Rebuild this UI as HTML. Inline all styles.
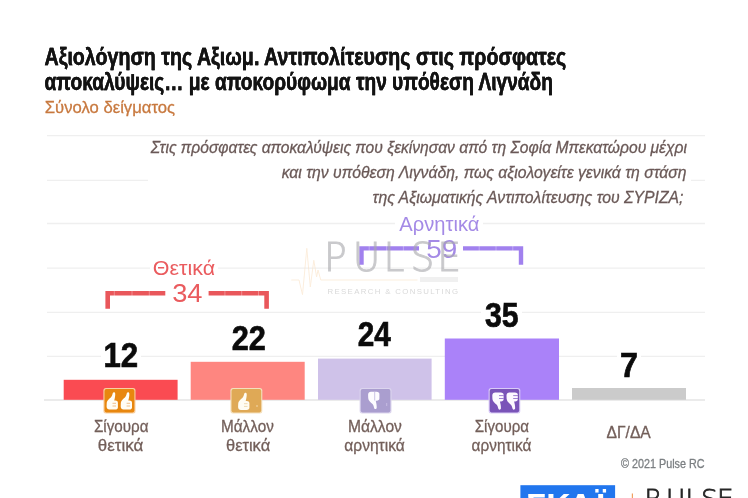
<!DOCTYPE html>
<html lang="el"><head><meta charset="utf-8"><title>Pulse RC – Αξιολόγηση της Αξιωμ. Αντιπολίτευσης</title>
<style>
html,body{margin:0;padding:0;background:#fff;}
body{width:748px;height:498px;overflow:hidden;position:relative;font-family:"Liberation Sans",sans-serif;}
svg{position:absolute;left:0;top:0;display:block}
text{font-family:"Liberation Sans",sans-serif;}
.lt{font-family:"DejaVu Sans Light","DejaVu Sans",sans-serif;font-weight:200}
</style></head><body>
<svg width="748" height="498" viewBox="0 0 748 498">
<rect width="748" height="498" fill="#fff"/>
<!-- grid -->
<g stroke="#efefef" stroke-width="1.4">
<line x1="47" y1="135.6" x2="705" y2="135.6"/>
<line x1="47" y1="180.4" x2="705" y2="180.4"/>
<line x1="47" y1="223.5" x2="705" y2="223.5"/>
<line x1="47" y1="268.1" x2="705" y2="268.1"/>
<line x1="47" y1="312.4" x2="705" y2="312.4"/>
<line x1="47" y1="356.4" x2="705" y2="356.4"/>
<line x1="44" y1="400" x2="705" y2="400" stroke="#e4e4e4"/>
</g>
<!-- white plates behind texts -->
<g fill="#fff">
<rect x="148" y="138" width="543" height="72"/>
<rect x="395" y="214" width="88" height="20"/>
<rect x="150" y="258" width="68" height="20"/>
<rect x="101" y="340" width="40" height="30"/>
<rect x="228" y="322" width="41" height="30"/>
<rect x="354" y="319" width="41" height="30"/>
<rect x="481" y="299" width="41" height="30"/>
<rect x="617" y="349" width="24" height="30"/>
</g>
<!-- bars -->
<rect x="63.7" y="379.8" width="113.9" height="20" fill="#fa4b52"/>
<rect x="190.7" y="361.8" width="114" height="38" fill="#fe8680"/>
<rect x="318" y="358.6" width="113.6" height="41.2" fill="#cfc2e9"/>
<rect x="444.8" y="338.5" width="114.2" height="61.3" fill="#aa82f9"/>
<rect x="572" y="388" width="114" height="11.8" fill="#cbcbcb"/>
<!-- brackets -->
<g fill="none" stroke="#e9575b" stroke-width="4.6">
<path d="M107.700 308.800V293.300H165.300M208.600 293.300H266.600V308.800"/>
</g>
<g fill="none" stroke="#a181ee" stroke-width="4.4">
<path d="M361.500 264.800V248.400H419M463 248.400H521V264.800"/>
</g>
<g stroke="#fff" stroke-width="0.9" opacity=".35">
<path d="M114.300 290v6M132 290v6M149.300 290v6M224.900 290v6M241.700 290v6M258.500 290v6M369.200 246v5M386.600 246v5M403.400 246v5M479.200 246v5M496 246v5M512.800 246v5"/>
</g>
<!-- texts -->
<text transform="translate(44.48 65.0) scale(0.8535 1)" font-size="23" fill="#131313" font-weight="700" stroke="#131313" stroke-width="0.3" style="filter:drop-shadow(0.8px 0 0 #131313)">Αξιολόγηση της Αξιωμ. Αντιπολίτευσης στις πρόσφατες</text>
<text transform="translate(44.60 90.2) scale(0.8329 1)" font-size="23" fill="#131313" font-weight="700" stroke="#131313" stroke-width="0.3" style="filter:drop-shadow(0.8px 0 0 #131313)">αποκαλύψεις… με αποκορύφωμα την υπόθεση Λιγνάδη</text>
<text transform="translate(44.77 113.3) scale(0.9803 1)" font-size="17" fill="#c8793f" stroke="#c8793f" stroke-width="0.3">Σύνολο δείγματος</text>
<text transform="translate(150.76 153.4) scale(0.9032 1)" font-size="17.3" fill="#6a5957" font-style="italic" stroke="#6a5957" stroke-width="0.3">Στις πρόσφατες αποκαλύψεις που ξεκίνησαν από τη Σοφία Μπεκατώρου μέχρι</text>
<text transform="translate(281.64 178.4) scale(0.9103 1)" font-size="17.3" fill="#6a5957" font-style="italic" stroke="#6a5957" stroke-width="0.3">και την υπόθεση Λιγνάδη, πως αξιολογείτε γενικά τη στάση</text>
<text transform="translate(372.53 203.0) scale(0.9122 1)" font-size="17.3" fill="#6a5957" font-style="italic" stroke="#6a5957" stroke-width="0.3">της Αξιωματικής Αντιπολίτευσης του ΣΥΡΙΖΑ;</text>
<text transform="translate(399.30 230.5) scale(1.0289 1)" font-size="19.6" fill="#a48ae6">Αρνητικά</text>
<text transform="translate(426.19 257.9) scale(1.1148 1)" font-size="25" fill="#a48ae6">59</text>
<text transform="translate(152.84 274.9) scale(1.0946 1)" font-size="19.6" fill="#ea5b5e">Θετικά</text>
<text transform="translate(172.18 302.4) scale(1.0488 1)" font-size="26" fill="#ea5b5e">34</text>
<text transform="translate(103.53 367.3) scale(0.8913 1)" font-size="35" fill="#0b0b0b" font-weight="700" stroke="#0b0b0b" stroke-width="0.7">12</text>
<text transform="translate(231.68 349.7) scale(0.8767 1)" font-size="35" fill="#0b0b0b" font-weight="700" stroke="#0b0b0b" stroke-width="0.7">22</text>
<text transform="translate(357.71 346.3) scale(0.8497 1)" font-size="35" fill="#0b0b0b" font-weight="700" stroke="#0b0b0b" stroke-width="0.7">24</text>
<text transform="translate(484.89 326.7) scale(0.8656 1)" font-size="35" fill="#0b0b0b" font-weight="700" stroke="#0b0b0b" stroke-width="0.7">35</text>
<text transform="translate(619.91 376.7) scale(0.9226 1)" font-size="35" fill="#0b0b0b" font-weight="700" stroke="#0b0b0b" stroke-width="0.7">7</text>
<text transform="translate(93.94 431.6) scale(0.9232 1)" font-size="16.5" fill="#735f5a" stroke="#735f5a" stroke-width="0.3">Σίγουρα</text>
<text transform="translate(97.85 450.8) scale(1.0252 1)" font-size="16.5" fill="#735f5a" stroke="#735f5a" stroke-width="0.3">θετικά</text>
<text transform="translate(220.97 431.6) scale(0.9285 1)" font-size="16.5" fill="#735f5a" stroke="#735f5a" stroke-width="0.3">Μάλλον</text>
<text transform="translate(225.98 450.8) scale(0.9973 1)" font-size="16.5" fill="#735f5a" stroke="#735f5a" stroke-width="0.3">θετικά</text>
<text transform="translate(348.05 431.6) scale(0.9466 1)" font-size="16.5" fill="#735f5a" stroke="#735f5a" stroke-width="0.3">Μάλλον</text>
<text transform="translate(344.28 450.8) scale(0.9445 1)" font-size="16.5" fill="#735f5a" stroke="#735f5a" stroke-width="0.3">αρνητικά</text>
<text transform="translate(474.74 431.6) scale(0.9163 1)" font-size="16.5" fill="#735f5a" stroke="#735f5a" stroke-width="0.3">Σίγουρα</text>
<text transform="translate(471.59 450.8) scale(0.9318 1)" font-size="16.5" fill="#735f5a" stroke="#735f5a" stroke-width="0.3">αρνητικά</text>
<text transform="translate(606.49 437.9) scale(0.9672 1)" font-size="16.2" fill="#735f5a" stroke="#735f5a" stroke-width="0.3">ΔΓ/ΔΑ</text>
<text transform="translate(621.09 467.5) scale(0.8848 1)" font-size="12.2" fill="#7b7f82" stroke="#7b7f82" stroke-width="0.3">© 2021 Pulse RC</text>
<!-- watermark -->
<g opacity="0.62">
<path d="M291.3 280H299L302.500 294.700L306.800 248.300L310.300 287L313.800 260.300L316.600 277L318 270L320.800 280H417.500" fill="none" stroke="#fae3c8" stroke-width="1"/>
<text transform="translate(0 271.2) scale(0.9535 1)" x="339.92 370.00 402.19 430.44 458.69" font-size="39.5" fill="#a9a9ad" class="lt" stroke="#a9a9ad" stroke-width="1">PULSE</text>
<text x="327.5" y="293.8" font-size="7.8" fill="#c2c2c2" textLength="130.5" lengthAdjust="spacing">RESEARCH &amp; CONSULTING</text>
<rect x="420" y="277" width="38" height="5" fill="#dcdcdc" opacity=".7"/>
</g>
<!-- icons -->
<defs>
<path id="th" d="M3 0H8.500C10.500 0 11.400 1 11.400 2.200V6.800C11.400 8.200 10.300 9 8.800 9L7.700 9C8.300 11.200 8.900 14 8.700 16.200 8.500 17.500 6.800 17.700 6.300 16.600 5.900 15.500 5.700 13.800 4.700 12.500 3 10.500.4 9.500.2 6L.1 3C.1 1.200 1.300 0 3 0Z"/>
</defs>
<g>
<rect x="103.400" y="388" width="32.100" height="25.500" rx="2.500" fill="#f8cfa2"/>
<rect x="104.500" y="389.100" width="29.900" height="23.300" rx="1.800" fill="#e8870f"/>
<g fill="#fffdf6"><use href="#th" transform="translate(106.500 409.600) scale(1 -1)"/><use href="#th" transform="translate(120.600 409.600) scale(1 -1)"/></g>
<path d="M112.500 403.300h3.500M112.500 406h3.500M126.600 403.300h3.500M126.600 406h3.500" stroke="#ecb070" stroke-width=".8"/>
</g>
<g>
<rect x="230.400" y="388" width="31.900" height="25.500" rx="2.500" fill="#f4e0bd"/>
<rect x="231.500" y="389.100" width="29.700" height="23.300" rx="1.800" fill="#dfa956"/>
<use href="#th" transform="translate(238 410) scale(1 -1)" fill="#fffdf4"/>
<path d="M244 403.700h3.500M244 406.400h3.500" stroke="#ead0a0" stroke-width=".8"/>
<circle cx="257" cy="406" r="1" fill="#ecc98f"/>
</g>
<g>
<rect x="359.600" y="388" width="31.900" height="25.500" rx="2.500" fill="#dcd5ee"/>
<rect x="360.700" y="389.100" width="29.700" height="23.300" rx="1.800" fill="#aa9ecf"/>
<use href="#th" transform="translate(368 391.800)" fill="#fdfcff"/>
<path d="M374.700 392v8.500" stroke="#beb4de" stroke-width=".8"/>
<path d="M386.700 403v3" stroke="#c5bbe2" stroke-width="1"/>
</g>
<g>
<rect x="488.600" y="388" width="31.700" height="25.500" rx="2.500" fill="#d9cbf7"/>
<rect x="489.700" y="389.100" width="29.500" height="23.300" rx="1.800" fill="#7a54b8"/>
<g fill="#fcf9ff"><use href="#th" transform="translate(492.200 392.400)"/><use href="#th" transform="translate(506.400 392.400)"/></g>
<path d="M499 395.600h4.800M499 398.500h4.800M513.200 395.600h4.800M513.200 398.500h4.800" stroke="#9473cc" stroke-width=".9"/>
</g>
<!-- bottom logos -->
<rect x="520.400" y="485.200" width="94.700" height="20" fill="#2176ee"/>
<text transform="translate(0 516) scale(1.0559 1)" x="498.70 517.38 538.47 564.45" font-size="32" fill="#fff" font-weight="700">ΣΚΑΪ</text>
<path d="M632.400 498v-4.500" stroke="#f0a060" stroke-width="1.200"/>
<text transform="translate(0 507) scale(1.0520 1)" x="612.74 633.11 651.58 666.25 681.47" font-size="25" fill="#262626" class="lt" stroke="#262626" stroke-width="0.8">PULSE</text>
</svg>
</body></html>
